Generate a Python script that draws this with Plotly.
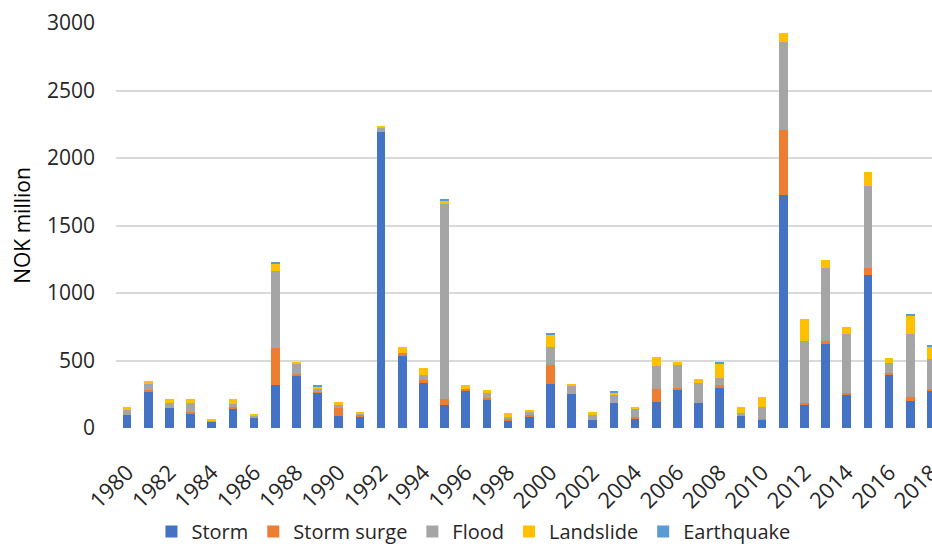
import plotly.graph_objects as go

years = list(range(1980, 2019))

storm = [97, 268, 146, 107, 50, 144, 79, 316, 391, 260, 87, 87, 2190, 533, 337, 174, 280, 213, 57, 87,
         325, 250, 62, 184, 69, 193, 278, 184, 298, 89, 60, 1729, 176, 622, 250, 1133, 394, 203, 278]
storm_surge = [0, 12, 0, 10, 0, 10, 0, 275, 12, 10, 59, 10, 0, 25, 20, 39, 10, 10, 12, 10,
               144, 0, 0, 0, 10, 95, 20, 0, 19, 0, 9, 477, 10, 20, 10, 49, 10, 28, 10]
flood = [39, 45, 38, 67, 5, 25, 8, 572, 72, 20, 25, 12, 30, 0, 37, 1445, 0, 37, 13, 22,
         134, 67, 35, 57, 67, 171, 171, 151, 57, 23, 85, 653, 456, 540, 439, 614, 77, 468, 225]
landslide = [18, 20, 29, 29, 14, 34, 20, 58, 15, 19, 22, 10, 20, 45, 47, 25, 30, 20, 27, 10,
             86, 8, 20, 19, 8, 67, 22, 27, 107, 42, 77, 66, 162, 64, 47, 101, 37, 132, 90]
earthquake = [0, 0, 0, 0, 0, 0, 0, 12, 0, 7, 0, 0, 0, 0, 0, 10, 0, 0, 0, 0,
              13, 0, 0, 10, 0, 0, 0, 0, 10, 0, 0, 0, 0, 0, 0, 0, 0, 12, 12]

series = [
    ("Storm", storm, "#4472C4"),
    ("Storm surge", storm_surge, "#ED7D31"),
    ("Flood", flood, "#A5A5A5"),
    ("Landslide", landslide, "#FFC000"),
    ("Earthquake", earthquake, "#5B9BD5"),
]

fig = go.Figure()
for name, vals, color in series:
    fig.add_trace(go.Bar(x=years, y=vals, name=name, marker_color=color,
                         marker_line_width=0, width=0.41))

font = "'Open Sans', sans-serif"
txt = "#262626"
fig.update_layout(
    barmode="stack",
    width=932, height=551,
    margin=dict(l=116, r=0, t=23, b=123, autoexpand=False),
    paper_bgcolor="white", plot_bgcolor="white",
    font=dict(family=font, size=21, color=txt),
    showlegend=True,
    legend=dict(orientation="h", xref="container", yref="container",
                x=0.508, xanchor="center", y=0.0, yanchor="bottom",
                font=dict(size=20, color=txt), itemwidth=30,
                traceorder="normal"),
    xaxis=dict(range=[1979.48, 2018.03], tickmode="array",
               tickvals=list(range(1980, 2019, 2)),
               ticktext=[str(y) for y in range(1980, 2019, 2)],
               tickangle=-45, showgrid=False, zeroline=False, showline=False,
               ticks="outside", ticklen=22, tickcolor="rgba(0,0,0,0)",
               ticklabeloverflow="allow", automargin=False,
               tickfont=dict(size=22, color=txt)),
    yaxis=dict(range=[0, 3000], tickvals=[0, 500, 1000, 1500, 2000, 2500, 3000],
               showgrid=True, gridcolor="#D9D9D9", gridwidth=1.5, zeroline=False,
               showline=False, ticklabelstandoff=20, automargin=False,
               tickfont=dict(size=21, color=txt),
               title=dict(text="NOK million", font=dict(size=21, color="#000000"), standoff=10)),
)

fig.write_html("out.html")
